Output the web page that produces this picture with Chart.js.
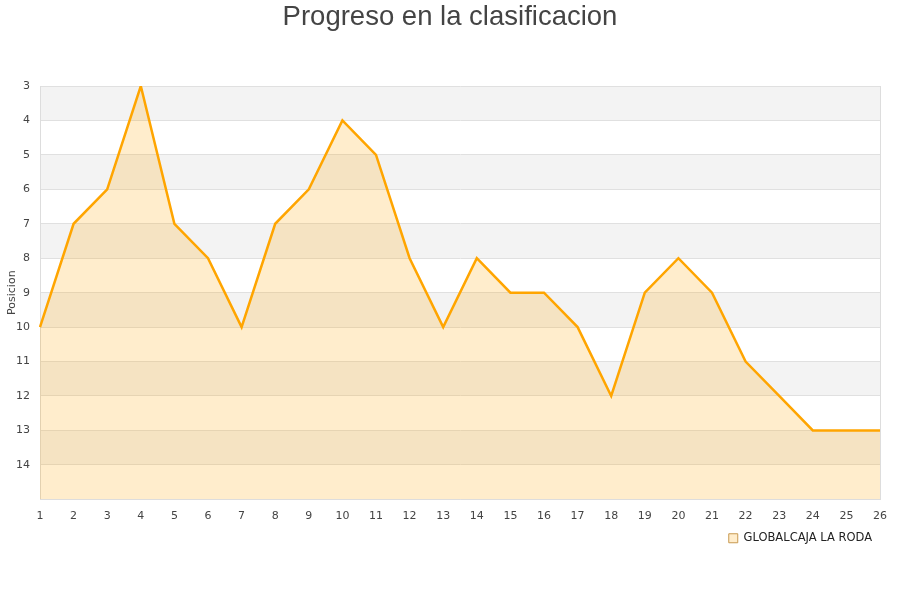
<!DOCTYPE html>
<html>
<head>
<meta charset="utf-8">
<script src="https://cdn.jsdelivr.net/npm/chart.js@4"></script>
<style>
  body { margin: 0; background: #fff; }
  #wrap { width: 900px; height: 600px; }
</style>
</head>
<body>
<div id="wrap"><canvas id="myChart"></canvas></div>
<script>
var jornadas = [1,2,3,4,5,6,7,8,9,10,11,12,13,14,15,16,17,18,19,20,21,22,23,24,25,26];
var posiciones = [10,7,6,3,7,8,10,7,6,4,5,8,10,8,9,9,10,12,9,8,9,11,12,13,13,13];
var equipo = 'GLOBALCAJA LA RODA';

// alternating grey bands behind the plot
var bands = {
  id: 'bands',
  beforeDraw: function(chart) {
    var ctx = chart.ctx, a = chart.chartArea, y = chart.scales.y;
    ctx.save();
    ctx.fillStyle = '#f3f3f3';
    for (var v = 3; v < 15; v += 2) {
      var y1 = y.getPixelForValue(v), y2 = y.getPixelForValue(v + 1);
      ctx.fillRect(a.left, y1, a.right - a.left, y2 - y1);
    }
    ctx.restore();
  }
};

new Chart("myChart", {
  type: "line",
  data: {
    labels: jornadas,
    datasets: [{
      label: equipo,
      data: posiciones,
      borderColor: '#ffa500',
      backgroundColor: 'rgba(255,165,0,0.2)',
      borderWidth: 2.5,
      pointRadius: 0,
      fill: 'start',
      tension: 0
    }]
  },
  options: {
    responsive: true,
    maintainAspectRatio: false,
    animation: false,
    layout: { padding: { left: 0, right: 0, top: 0, bottom: 46 } },
    plugins: {
      title: {
        display: true,
        text: 'Progreso en la clasificacion',
        color: '#444',
        font: { family: 'Liberation Sans', size: 27.5, weight: 'normal' },
        padding: { top: 1, bottom: 52 }
      },
      legend: {
        position: 'bottom',
        align: 'end',
        fullSize: false,
        labels: {
          boxWidth: 9,
          boxHeight: 9,
          padding: 8,
          color: '#222',
          font: { family: 'DejaVu Sans', size: 11.5 },
          generateLabels: function(chart) {
            var items = Chart.defaults.plugins.legend.labels.generateLabels(chart);
            items.forEach(function(it) { it.lineWidth = 1; it.strokeStyle = '#c89a50'; it.fillStyle = '#ffedcc'; });
            return items;
          }
        }
      },
      tooltip: { enabled: false }
    },
    scales: {
      x: {
        offset: false,
        grid: { display: false },
        border: { color: '#ddd' },
        ticks: { color: '#444', padding: 2, font: { family: 'DejaVu Sans', size: 11 }, maxRotation: 0, autoSkip: false }
      },
      y: {
        reverse: true,
        min: 3,
        max: 15,
        afterFit: function(s) { s.width = 40; },
        grid: { color: '#e0e0e0', drawTicks: false },
        border: { color: '#ddd' },
        title: { display: true, text: 'Posicion', color: '#444', font: { family: 'DejaVu Sans', size: 11 }, padding: { top: 6, bottom: 0 } },
        ticks: {
          stepSize: 1,
          padding: 10,
          color: '#444',
          font: { family: 'DejaVu Sans', size: 11 },
          callback: function(v) { return v === 15 ? '' : v; }
        }
      },
      yr: {
        position: 'right',
        display: true,
        afterFit: function(s) { s.width = 20; },
        grid: { display: false, drawTicks: false },
        border: { color: '#ddd' },
        ticks: { display: false }
      }
    }
  },
  plugins: [bands]
});
</script>
</body>
</html>
